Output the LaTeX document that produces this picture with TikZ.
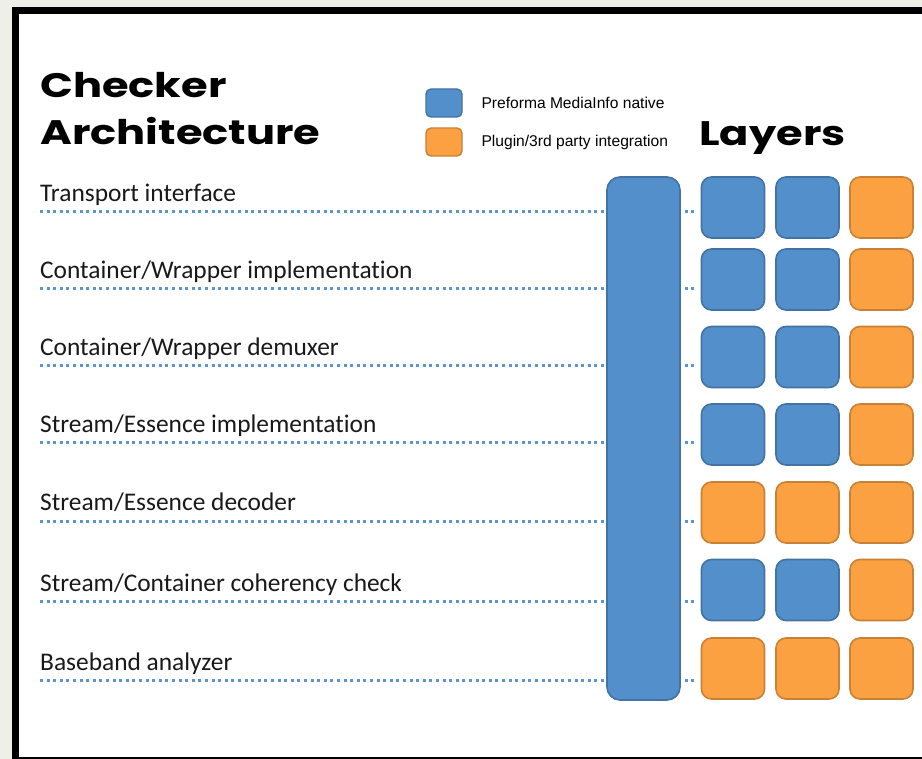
\documentclass[tikz,border=0pt]{standalone}
\usepackage{fontspec}
\setmainfont{Carlito}[Ligatures=NoCommon]
\newfontfamily\headfont{Poppins}
\newfontfamily\legendfont{Liberation Sans}
\usepackage{xcolor}

\begin{document}
\begin{tikzpicture}[x=1pt,y=-1pt,
  tile/.style={draw=#1!80!black,fill=#1,line width=1.6pt,rounded corners=10pt,
    minimum width=63pt,minimum height=61pt,inner sep=0pt},
  key/.style={draw=#1!80!black,fill=#1,line width=1.4pt,rounded corners=5pt,
    minimum width=36pt,minimum height=28pt,inner sep=0pt},
  heading/.style={anchor=base west,inner sep=0pt,align=left,xscale=1.27,transform shape,
    font=\headfont\bfseries\fontsize{34}{47}\selectfont},
  layer/.style={anchor=base west,inner sep=0pt,text=black!90,
    font=\fontsize{25.4}{30}\selectfont},
  dots/.style={draw=dotblue,line width=3pt,dash pattern=on 3pt off 3.6pt}]
\definecolor{native}{HTML}{5390CB}
\definecolor{plugin}{HTML}{FBA142}
\definecolor{dotblue}{HTML}{5B95D0}
\definecolor{pagegrey}{HTML}{EFEFEA}
\useasboundingbox (0,0) rectangle (922,759);
\fill[pagegrey] (0,0) rectangle (922,759);
\fill[black] (12,7) rectangle (922,759);
\fill[white] (19,14) rectangle (922,757);
% headings
\node[heading] (title) at (40,145) {Checker\\Architecture};
\node[heading] (layers) at (699,146) {Layers};
% legend
\node[key=native] (knative) at (444,103) {};
\node[key=plugin] (kplugin) at (444,142) {};
\node[anchor=west,font=\legendfont\fontsize{15.6}{18}\selectfont] (tnative) at (478,103) {Preforma MediaInfo native};
\node[anchor=west,font=\legendfont\fontsize{15.6}{18}\selectfont] (tplugin) at (478,142) {Plugin/3rd party integration};
% core bar
\node[tile=native,minimum width=73pt,minimum height=523pt,rounded corners=13pt] (core) at (643.5,438.5) {};
% rows
\foreach \i/\y/\cy/\ca/\cb/\cc/\txt in {
  1/212/207.5/native/native/plugin/Transport interface,
  2/289/279.5/native/native/plugin/Container\slash Wrapper implementation,
  3/366/357/native/native/plugin/Container\slash Wrapper demuxer,
  4/443/434.5/native/native/plugin/Stream\slash Essence implementation,
  5/521/512.5/plugin/plugin/plugin/Stream\slash Essence decoder,
  6/601/590/native/native/plugin/Stream\slash Container coherency check,
  7/680/668.5/plugin/plugin/plugin/Baseband analyzer}
{
  \node[layer] (t\i) at (40,\y-10) {\txt};
  \coordinate (l\i) at (40,\y);
  \node[tile=\ca] (s\i a) at (733,\cy) {};
  \node[tile=\cb] (s\i b) at (807.5,\cy) {};
  \node[tile=\cc] (s\i c) at (881.5,\cy) {};
  \draw[dots] (l\i) -- (l\i -| core.west);
  \draw[dots,shorten <=4pt,shorten >=4pt] (l\i -| core.east) -- (l\i -| s\i a.west);
}
\end{tikzpicture}
\end{document}
